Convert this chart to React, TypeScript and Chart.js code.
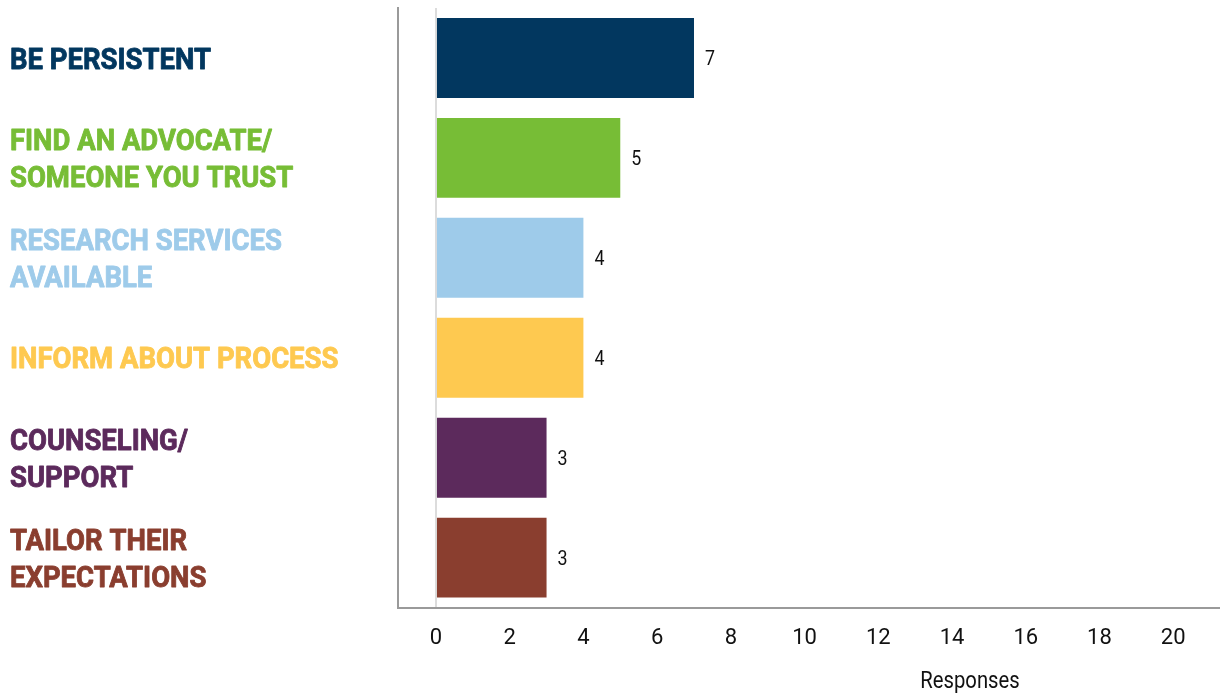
import React, { useEffect, useRef } from "react";
import { Chart, registerables } from "chart.js";

Chart.register(...registerables);

const categories = [
  "BE PERSISTENT",
  "FIND AN ADVOCATE/ SOMEONE YOU TRUST",
  "RESEARCH SERVICES AVAILABLE",
  "INFORM ABOUT PROCESS",
  "COUNSELING/ SUPPORT",
  "TAILOR THEIR EXPECTATIONS",
];
const labelLines = [
  ["BE PERSISTENT"],
  ["FIND AN ADVOCATE/", "SOMEONE YOU TRUST"],
  ["RESEARCH SERVICES", "AVAILABLE"],
  ["INFORM ABOUT PROCESS"],
  ["COUNSELING/", "SUPPORT"],
  ["TAILOR THEIR", "EXPECTATIONS"],
];
const values = [7, 5, 4, 4, 3, 3];
const barColors = ["#02375f", "#77bd36", "#9ecbea", "#fec950", "#5c2a5c", "#8a3e2f"];
const xTickValues = [0, 2, 4, 6, 8, 10, 12, 14, 16, 18, 20];
const axisTitle = "Responses";

export default function App() {
  const ref = useRef<HTMLCanvasElement>(null);

  useEffect(() => {
    if (!ref.current) return;
    const drawPlugin = {
      id: "customText",
      afterDraw(chart: any) {
        const ctx = chart.ctx;
        const yScale = chart.scales.y;
        ctx.save();
        // Category labels (condensed look)
        ctx.font = "bold 30px Roboto";
        const w = ctx.measureText("BE PERSISTENT").width;
        const sx = 201 / w;
        const lh = 37;
        labelLines.forEach((lines, i) => {
          const cy = yScale.getPixelForValue(i);
          const n = lines.length;
          lines.forEach((line, j) => {
            const base = cy + (j - (n - 1) / 2) * lh + 10.7;
            ctx.save();
            ctx.translate(10, base);
            ctx.scale(sx, 1);
            ctx.fillStyle = barColors[i];
            ctx.strokeStyle = barColors[i];
            ctx.lineWidth = 0.9;
            ctx.lineJoin = "round";
            ctx.textBaseline = "alphabetic";
            ctx.textAlign = "left";
            ctx.fillText(line, 0, 0);
            ctx.strokeText(line, 0, 0);
            ctx.restore();
          });
        });
        // Value labels
        const meta = chart.getDatasetMeta(0);
        ctx.font = "21px Roboto";
        meta.data.forEach((bar: any, i: number) => {
          ctx.save();
          ctx.translate(bar.x + 11, bar.y + 7.5);
          ctx.scale(0.85, 1);
          ctx.fillStyle = "#111";
          ctx.textBaseline = "alphabetic";
          ctx.textAlign = "left";
          ctx.fillText(String(values[i]), 0, 0);
          ctx.restore();
        });
        // Axis title
        ctx.font = "23px Roboto";
        ctx.save();
        ctx.translate(970, 688);
        ctx.scale(0.88, 1);
        ctx.fillStyle = "#111";
        ctx.textAlign = "center";
        ctx.textBaseline = "alphabetic";
        ctx.fillText(axisTitle, 0, 0);
        ctx.restore();
        ctx.restore();
      },
    };

    const chart = new Chart(ref.current, {
      type: "bar",
      data: {
        labels: categories,
        datasets: [
          {
            data: values,
            backgroundColor: barColors,
            borderWidth: 0,
            barPercentage: 0.8,
            categoryPercentage: 1,
          },
        ],
      },
      options: {
        indexAxis: "y",
        responsive: true,
        maintainAspectRatio: false,
        animation: false,
        layout: { padding: { left: 398, top: 8, right: 0, bottom: 23 } },
        plugins: {
          legend: { display: false },
          tooltip: { enabled: false },
        },
        scales: {
          x: {
            type: "linear",
            min: -1.03,
            max: 21.27,
            afterBuildTicks: (scale: any) => {
              scale.ticks = xTickValues.map((v) => ({ value: v }));
            },
            grid: {
              drawTicks: false,
              color: (c: any) => (c.tick && c.tick.value === 0 ? "#dcdcdc" : "rgba(0,0,0,0)"),
              lineWidth: 2,
            },
            border: { display: true, color: "#9a9a9a", width: 2 },
            ticks: {
              padding: 18,
              color: "#111",
              font: { family: "Roboto", size: 22 },
              maxRotation: 0,
              autoSkip: false,
            },
          },
          y: {
            type: "category",
            grid: { display: false, drawTicks: false },
            border: { display: true, color: "#9a9a9a", width: 2 },
            ticks: { display: false },
          },
        },
      },
      plugins: [drawPlugin],
    } as any);
    return () => chart.destroy();
  }, []);

  return (
    <div style={{ position: "fixed", left: 0, top: 0, width: 1220, height: 693, background: "#fff" }}>
      <canvas ref={ref} />
    </div>
  );
}
